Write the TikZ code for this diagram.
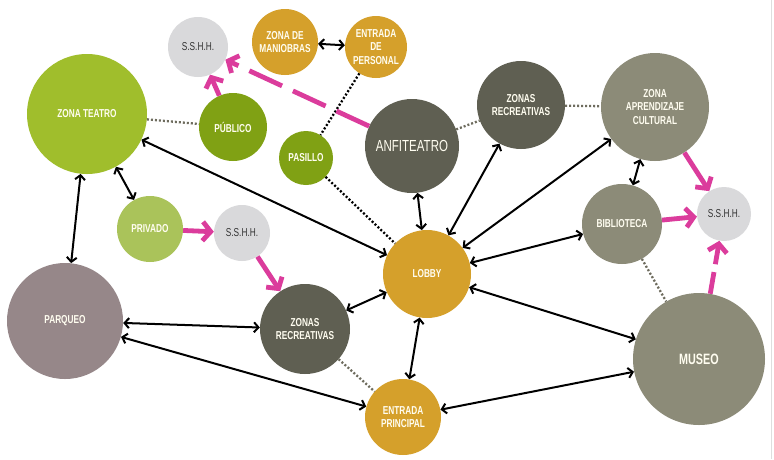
\documentclass[tikz,border=0pt]{standalone}
\usepackage{fontspec}
\setmainfont{Liberation Sans}[FakeStretch=0.72]
\usetikzlibrary{arrows.meta}
\definecolor{cGold}{HTML}{D5A02B}
\definecolor{cTeatro}{HTML}{A0BE2C}
\definecolor{cGreen}{HTML}{80A114}
\definecolor{cPriv}{HTML}{AAC35A}
\definecolor{cDark}{HTML}{5F5F52}
\definecolor{cOlive}{HTML}{8C8B78}
\definecolor{cParq}{HTML}{968789}
\definecolor{cWc}{HTML}{D9D9DB}
\definecolor{cPink}{HTML}{DB3C9C}
\definecolor{cText}{HTML}{FFFDF0}
\definecolor{cDot}{HTML}{6E6C5E}
\begin{document}
\begin{tikzpicture}[x=1pt,y=-1pt,
  bub/.style={circle, inner sep=0pt, align=center, text=cText,
    font=\bfseries\fontsize{11.5}{13.8}\selectfont},
  wc/.style={circle, inner sep=0pt, fill=cWc, minimum size=#1, text=black!80,
    font=\fontsize{11.5}{13}\selectfont},
  blk/.style={line width=2pt, black, {Straight Barb[length=4.5pt,width=10pt]}-{Straight Barb[length=4.5pt,width=10pt]}},
  pnk/.style={line width=4.8pt, cPink, -{Straight Barb[length=8pt,width=19pt]}},
  dotl/.style={line width=2.3pt, cDot, dash pattern=on 2pt off 2pt},
  dotk/.style={line width=2.3pt, black, dash pattern=on 2pt off 2pt}]
\useasboundingbox (0,0) rectangle (774,459);
\fill[white] (0,0) rectangle (774,459);
\draw[line width=1pt, black!13] (771.5,0) -- (771.5,459);

% nodes
\node[bub, fill=cTeatro, minimum size=120pt] (ztea) at (87,114) {ZONA TEATRO};
\node[wc=60pt] (sshhA) at (198,47) {S.S.H.H.};
\node[bub, fill=cGold, minimum size=66pt] (mani) at (285,42) {ZONA DE\\MANIOBRAS};
\node[bub, fill=cGold, minimum size=62pt] (epers) at (376,47) {ENTRADA\\DE\\PERSONAL};
\node[bub, fill=cGreen, minimum size=68pt] (publ) at (233,127) {PÚBLICO};
\node[bub, fill=cGreen, minimum size=54pt] (pas) at (306,158) {PASILLO};
\node[bub, fill=cDark, minimum size=94pt, font=\fontsize{16}{18}\selectfont] (anf) at (412,146) {ANFITEATRO};
\node[bub, fill=cDark, minimum size=88pt] (zrecA) at (521,105) {ZONAS\\RECREATIVAS};
\node[bub, fill=cOlive, minimum size=108pt] (zapr) at (655,107) {ZONA\\APRENDIZAJE\\CULTURAL};
\node[bub, fill=cOlive, minimum size=80pt] (bib) at (622,224) {BIBLIOTECA};
\node[wc=54pt] (sshhC) at (724,214) {S.S.H.H.};
\node[bub, fill=cOlive, minimum size=132pt, font=\bfseries\fontsize{15}{17}\selectfont] (museo) at (699,359) {MUSEO};
\node[bub, fill=cGold, minimum size=88pt] (lobby) at (427,274) {LOBBY};
\node[bub, fill=cDark, minimum size=90pt] (zrecB) at (305,329) {ZONAS\\RECREATIVAS};
\node[bub, fill=cGold, minimum size=76pt] (eprin) at (403,417) {ENTRADA\\PRINCIPAL};
\node[bub, fill=cParq, minimum size=116pt] (parq) at (65,321) {PARQUEO};
\node[bub, fill=cPriv, minimum size=66pt] (priv) at (150,229) {PRIVADO};
\node[wc=56pt] (sshhB) at (242,233) {S.S.H.H.};

% dotted links
\draw[dotl] (ztea) -- (publ);
\draw[dotk] (epers) -- (pas);
\draw[dotk] (pas) -- (lobby);
\draw[dotl] (anf) -- (zrecA);
\draw[dotl] (zrecA) -- (zapr);
\draw[dotl] (bib) -- (museo);
\draw[dotl] (zrecB) -- (eprin);

% black two-way links
\draw[blk] (mani) -- (epers);
\draw[blk] (ztea) -- (lobby);
\draw[blk] (ztea) -- (parq);
\draw[blk] (ztea) -- (priv);
\draw[blk] (anf) -- (lobby);
\draw[blk] (zrecA) -- (lobby);
\draw[blk] (zapr) -- (lobby);
\draw[blk] (bib) -- (lobby);
\draw[blk] (zapr) -- (bib);
\draw[blk] (lobby) -- (museo);
\draw[blk] (lobby) -- (zrecB);
\draw[blk] (lobby) -- (eprin);
\draw[blk] (parq) -- (zrecB);
\draw[blk] (parq) -- (eprin);
\draw[blk] (eprin) -- (museo);

% pink links to toilets
\draw[pnk] (publ) -- (sshhA);
\draw[pnk, dash pattern=on 36pt off 12pt] (anf) -- (sshhA);
\draw[pnk] (priv) -- (sshhB);
\draw[pnk] (sshhB) -- (zrecB);
\draw[pnk] (zapr) -- (sshhC);
\draw[pnk] (bib) -- (sshhC);
\draw[pnk, dash pattern=on 22pt off 8pt] (museo) -- (sshhC);
\end{tikzpicture}
\end{document}
